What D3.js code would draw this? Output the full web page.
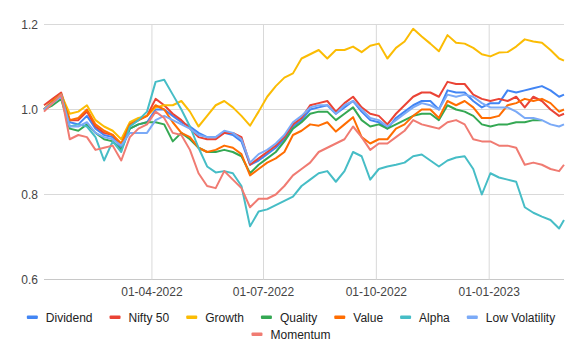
<!DOCTYPE html>
<html>
<head>
<meta charset="utf-8">
<script src="https://cdn.jsdelivr.net/npm/d3@7"></script>
<style>
  body { margin: 0; background: #fff; }
  text { font-family: Arial, "Liberation Sans", sans-serif; }
</style>
</head>
<body>
<div id="chart"></div>
<script>
// weekly readings, Jan 2022 - Mar 2023
const weeks = ["2022-01-03","2022-01-10","2022-01-17","2022-01-24","2022-01-31","2022-02-07","2022-02-14","2022-02-21","2022-02-28",
  "2022-03-07","2022-03-14","2022-03-21","2022-03-28","2022-04-04","2022-04-11","2022-04-18","2022-04-25","2022-05-02","2022-05-09",
  "2022-05-16","2022-05-23","2022-05-30","2022-06-06","2022-06-13","2022-06-20","2022-06-27","2022-07-04","2022-07-11","2022-07-18",
  "2022-07-25","2022-08-01","2022-08-08","2022-08-15","2022-08-22","2022-08-29","2022-09-05","2022-09-12","2022-09-19","2022-09-26",
  "2022-10-03","2022-10-10","2022-10-17","2022-10-24","2022-10-31","2022-11-07","2022-11-14","2022-11-21","2022-11-28","2022-12-05",
  "2022-12-12","2022-12-19","2022-12-26","2023-01-02","2023-01-09","2023-01-16","2023-01-23","2023-01-30","2023-02-06","2023-02-13",
  "2023-02-20","2023-02-27","2023-03-03"];

const dividend = [1.0,1.02,1.035,0.97,0.965,0.985,0.955,0.94,0.935,0.91,0.955,0.965,0.97,1.0,1.0,0.985,0.97,0.96,0.945,0.935,0.935,
  0.945,0.94,0.925,0.87,0.88,0.895,0.91,0.93,0.96,0.975,1.0,1.005,1.01,0.99,1.005,1.02,0.995,0.975,0.97,0.955,0.98,0.995,1.01,1.02,
  1.02,1.0,1.045,1.04,1.04,1.02,1.005,1.015,1.015,1.045,1.04,1.045,1.05,1.055,1.045,1.03,1.035];
const nifty50 = [1.01,1.025,1.04,0.975,0.975,0.995,0.96,0.945,0.94,0.915,0.965,0.975,0.985,1.025,1.01,0.99,0.975,0.955,0.935,0.93,0.93,
  0.945,0.945,0.935,0.87,0.885,0.9,0.915,0.935,0.965,0.98,1.01,1.015,1.02,0.995,1.015,1.03,1.005,0.99,0.985,0.965,0.99,1.01,1.03,1.04,
  1.04,1.03,1.065,1.06,1.06,1.035,1.025,1.02,1.025,1.02,1.03,1.005,1.03,1.02,1.0,0.985,0.99];
const growth = [1.0,1.02,1.035,0.99,0.995,1.01,0.975,0.96,0.95,0.93,0.97,0.98,0.985,1.005,1.01,1.01,1.02,0.995,0.96,0.985,1.01,
  1.02,1.005,0.985,0.962,0.995,1.03,1.055,1.075,1.085,1.12,1.13,1.14,1.12,1.14,1.14,1.148,1.135,1.15,1.155,1.12,1.145,1.16,1.19,1.172,
  1.155,1.137,1.175,1.157,1.155,1.145,1.13,1.125,1.134,1.135,1.148,1.165,1.16,1.157,1.14,1.12,1.115];
const quality = [1.0,1.01,1.025,0.955,0.95,0.965,0.945,0.93,0.925,0.905,0.955,0.965,0.97,0.97,0.965,0.925,0.945,0.93,0.91,0.9,0.9,
  0.905,0.9,0.89,0.85,0.87,0.885,0.9,0.925,0.955,0.97,0.99,0.995,0.995,0.975,0.99,1.005,0.975,0.96,0.965,0.955,0.965,0.975,0.985,0.99,
  0.99,0.975,1.01,1.0,0.995,0.985,0.965,0.96,0.965,0.965,0.97,0.97,0.975,0.975];
const value = [1.0,1.02,1.035,0.975,0.98,1.0,0.965,0.95,0.94,0.92,0.965,0.975,0.985,1.01,1.0,0.97,0.945,0.935,0.91,0.9,0.905,
  0.915,0.91,0.895,0.845,0.86,0.875,0.885,0.9,0.94,0.95,0.965,0.962,0.97,0.948,0.965,0.982,0.935,0.92,0.93,0.93,0.955,0.965,0.985,1.0,
  1.0,0.98,1.02,1.01,1.02,1.005,0.98,0.98,0.985,1.01,1.015,1.025,1.02,1.025,1.015,0.995,1.0];
const alpha = [1.0,1.015,1.035,0.96,0.965,0.96,0.935,0.88,0.925,0.9,0.96,0.975,0.995,1.065,1.07,1.035,1.0,0.96,0.91,0.866,0.852,
  0.855,0.85,0.82,0.725,0.76,0.765,0.775,0.785,0.795,0.82,0.835,0.85,0.855,0.83,0.855,0.9,0.89,0.835,0.86,0.866,0.87,0.875,0.89,0.894,
  0.88,0.866,0.88,0.887,0.89,0.86,0.8,0.85,0.84,0.835,0.83,0.77,0.757,0.748,0.74,0.72,0.74];
const lowVolatility = [1.0,1.015,1.03,0.96,0.96,0.97,0.945,0.935,0.93,0.915,0.945,0.945,0.945,0.975,0.985,0.975,0.965,0.955,0.94,0.935,0.935,
  0.95,0.945,0.93,0.875,0.895,0.905,0.92,0.94,0.97,0.985,1.005,1.01,1.01,0.99,1.01,1.02,1.0,0.98,0.975,0.96,0.975,0.99,1.005,1.015,
  1.01,1.0,1.035,1.03,1.035,1.03,1.015,1.005,1.005,1.005,0.995,0.98,0.98,0.975,0.965,0.96,0.965];
const momentum = [0.995,1.015,1.035,0.93,0.94,0.935,0.905,0.91,0.915,0.88,0.935,0.955,0.965,0.995,0.98,0.945,0.94,0.905,0.85,0.82,0.815,
  0.855,0.835,0.815,0.77,0.79,0.79,0.8,0.82,0.845,0.86,0.875,0.9,0.91,0.92,0.93,0.96,0.935,0.905,0.92,0.92,0.935,0.95,0.975,0.965,
  0.96,0.955,0.97,0.975,0.965,0.93,0.925,0.925,0.915,0.915,0.91,0.87,0.875,0.87,0.86,0.855,0.87];

const seriesNames = ["Dividend","Nifty 50","Growth","Quality","Value","Alpha","Low Volatility","Momentum"];
const seriesValues = [dividend, nifty50, growth, quality, value, alpha, lowVolatility, momentum];
const colors = ["#4285f4","#ea4335","#fbbc04","#34a853","#ff6d01","#46bdc6","#7baaf7","#f07b72"];
const yTicks = [0.6, 0.8, 1.0, 1.2];
const xTicks = ["2022-04-01","2022-07-01","2022-10-01","2023-01-01"];

const width = 582, height = 360;
const parse = d3.timeParse("%Y-%m-%d");
const dates = weeks.map(parse);

const svg = d3.select("#chart").append("svg")
    .attr("width", width)
    .attr("height", height)
    .attr("viewBox", [0, 0, width, height]);

const x = d3.scaleTime()
    .domain(d3.extent(dates))
    .range([44, 564]);

const y = d3.scaleLinear()
    .domain([0.6, 1.2])
    .range([279.5, 24.5]);

// horizontal grid + y labels
svg.append("g")
  .selectAll("line")
  .data(yTicks)
  .join("line")
    .attr("x1", 44).attr("x2", 564)
    .attr("y1", d => y(d)).attr("y2", d => y(d))
    .attr("stroke", d => d === 0.6 ? "#c8c8c8" : "#d9d9d9")
    .attr("stroke-width", 1);

svg.append("g")
  .selectAll("text")
  .data(yTicks)
  .join("text")
    .attr("x", 38)
    .attr("y", d => y(d) + 4)
    .attr("text-anchor", "end")
    .attr("font-size", 12)
    .attr("fill", "#444")
    .text(d => d3.format(".1f")(d));

// vertical grid + x labels
const xt = xTicks.map(parse);
svg.append("g")
  .selectAll("line")
  .data(xt)
  .join("line")
    .attr("x1", d => x(d)).attr("x2", d => x(d))
    .attr("y1", y(1.2)).attr("y2", y(0.6))
    .attr("stroke", "#d9d9d9");

svg.append("g")
  .selectAll("text")
  .data(xt)
  .join("text")
    .attr("x", d => x(d))
    .attr("y", 296)
    .attr("text-anchor", "middle")
    .attr("font-size", 12)
    .attr("fill", "#444")
    .text(d3.timeFormat("%d-%m-%Y"));

// lines
const line = d3.line()
    .x((d, i) => x(dates[i]))
    .y(d => y(d));

svg.append("g")
  .selectAll("path")
  .data(seriesValues)
  .join("path")
    .attr("d", d => line(d))
    .attr("fill", "none")
    .attr("stroke", (d, i) => colors[i])
    .attr("stroke-width", 2)
    .attr("stroke-linejoin", "round");

// legend, two rows centred on the chart
const legend = svg.append("g");
const rows = [seriesNames.slice(0, 7), seriesNames.slice(7)];
const rowY = [317, 334];
rows.forEach((names, r) => {
  const g = legend.append("g");
  let cx = 0;
  names.forEach(name => {
    const idx = seriesNames.indexOf(name);
    g.append("rect")
      .attr("x", cx).attr("y", rowY[r] - 1.5)
      .attr("width", 11).attr("height", 3.5).attr("rx", 1)
      .attr("fill", colors[idx]);
    const t = g.append("text")
      .attr("x", cx + 19).attr("y", rowY[r] + 4.5)
      .attr("font-size", 12)
      .attr("fill", "#222")
      .text(name);
    cx += 19 + t.node().getComputedTextLength() + 17;
  });
  const w = cx - 17;
  g.attr("transform", `translate(${291 - w / 2},0)`);
});
</script>
</body>
</html>
